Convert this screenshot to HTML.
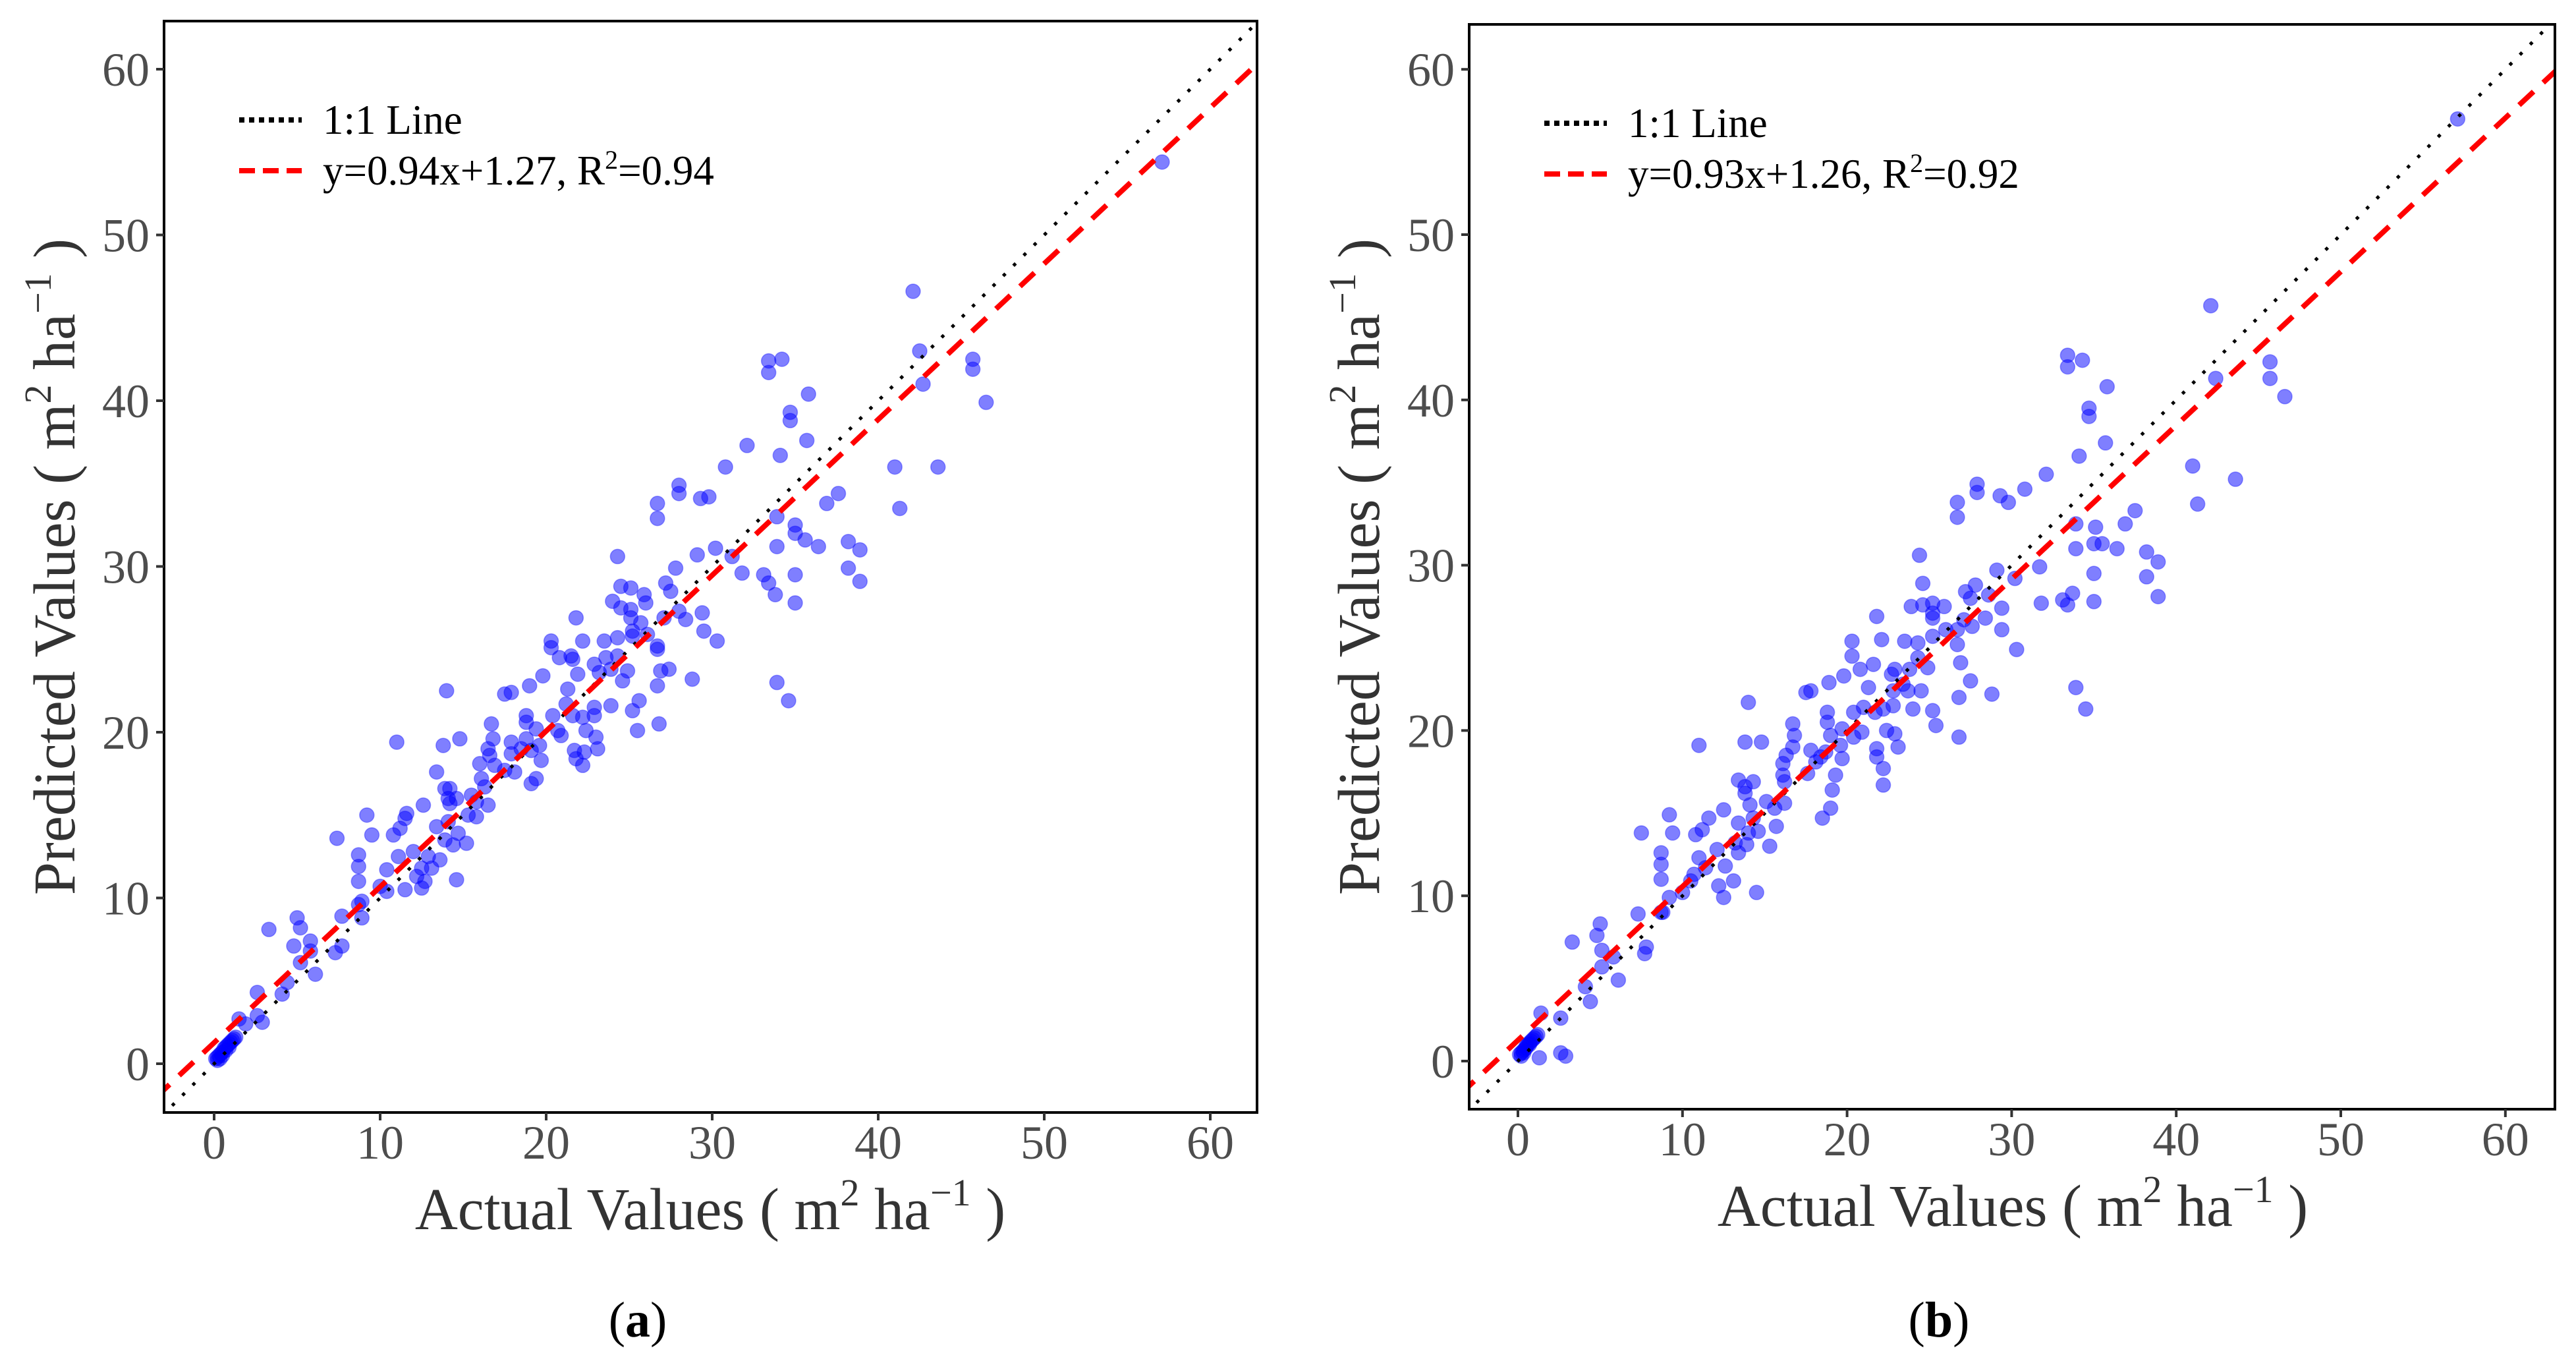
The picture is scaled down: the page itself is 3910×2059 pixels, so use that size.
<!DOCTYPE html>
<html><head><meta charset="utf-8"><style>
html,body{margin:0;padding:0;background:#fff;}
svg{display:block;font-family:"Liberation Serif",serif;}
</style></head><body>
<svg id="fig" width="3910" height="2059" viewBox="0 0 3910 2059" xmlns="http://www.w3.org/2000/svg">
<defs>
<clipPath id="clipA"><rect x="249" y="32" width="1659" height="1656"/></clipPath>
<clipPath id="clipB"><rect x="2230" y="37" width="1648" height="1646"/></clipPath>
</defs>
<g id="panelA"></g>
<g id="panelB"></g>
</svg>
<script>
const tickValues = [0,10,20,30,40,50,60];
const actualA = [42.1,42.5,42.7,45.7,45.7,46.5,41,41.3,43.6,57.1,33.4,34.2,33.4,35.8,34.7,34.7,35.7,34.1,32.1,30.8,28,28,26.7,26.7,29.3,29.8,33.9,35,35,35.6,36.4,33.9,37.6,36.9,38.2,38.9,38.2,38.9,33.1,33.4,33.8,35,35,33.9,34.6,31.8,31.2,30.2,29.1,27.8,27.2,27.5,24.3,24.5,25.1,25.9,26,24,24.5,25.1,25.1,25.7,27.1,28,28.4,29.4,29.5,30.3,25.2,25.2,26.1,26.7,26.7,21.8,20.3,20.3,22.2,23.5,24.3,20.8,21.5,21.6,22.9,23.6,24.3,23.2,23.9,24.9,26.9,27.4,19.8,21.9,19,17.5,17.9,21.3,24.6,23.9,25.6,26.7,28.8,14,21.2,20.4,21.6,22.2,22.9,22.9,25.2,18.8,18.8,19.4,20.7,20.9,22.4,23,25.5,26.8,16.7,16.8,14.8,13.8,16.5,16.6,17.9,18.8,17.9,18.5,19.1,19.6,21.7,23.1,21.8,22.3,22.2,16,16.9,17.5,18.1,19.7,11,13.4,16.1,16.3,19.1,19.4,13.9,14.2,14.1,14.6,15.5,15.8,16.5,15.8,15.3,14.2,12.6,11.6,11.5,11.2,10.8,13.4,14.1,14.7,15.2,14.4,13.9,9.2,7.4,9.5,8.7,8.7,8.7,11.1,12,12.9,13.6,12.5,13.1,12.2,12.7,12.5,10.4,11.5,10.4,10,14.6,8.9,8.7,8.9,7.7,7.7,7.3,5,5.2,3.3,4.8,5.8,5.8,5.2,6.1,4.4,4.1,2.6,1.5,1.9,2.9,2.6,0.1,0.2,0.3,0.4,0.5,0.6,0.7,0.8,0.9,1.0,1.1,1.2,1.3,0.2,0.35,0.5,0.7,0.9];
const predictedA = [46.6,43.0,41.0,42.5,41.9,39.9,36,33.5,36,54.4,42.4,42.5,41.7,40.4,39.3,38.8,37.6,36.7,37.3,36,34.9,34.4,33.8,32.9,34.1,34.2,33,32.5,32,31.6,31.2,31.2,34.4,33.8,31.5,31,29.9,29.1,29.5,29,28.3,29.5,27.8,23,21.9,29.6,30.6,31.1,30.7,29.9,29,28.5,30.6,28.8,28.7,28.3,27.8,27.9,27.5,27.4,26.9,26.6,26.9,27.3,26.8,27.2,26.1,25.5,26.1,25.8,25.9,25.2,25,26.9,25.5,25.1,25.5,25.5,25.7,24.5,24.6,24.4,24.1,24.5,24.6,23.6,23.8,23.7,23.7,23.8,23.4,23.5,22.8,22.3,22.4,22.6,23.1,21.6,21.9,22.8,23.2,22.5,21.7,21,21,20.9,21.5,21,21.3,21,20.6,20.2,20.1,19.8,20.1,19.7,20.1,20.5,20.5,19.6,19.6,19.2,19,18.6,19.4,19.6,18.7,19,18.9,19.2,18.9,19,18.4,18.8,18,18.1,18,17.7,17.6,18.3,19.4,17.6,17.2,16.7,16.9,17.2,16.6,16.6,16,16,16.2,15.8,15.6,14.9,15,15.7,15.6,15.1,14.8,14.2,13.8,14.3,14.6,13.9,13.3,13.2,13.5,15,13.6,13.8,12.6,11.9,11,12.5,12.8,12.5,12.3,11.8,11.8,11.3,11,10.6,11.7,10.5,10.4,10.7,11.1,9.8,9.6,8.8,8.9,7.1,6.7,8.8,8.2,8.1,7.1,7.4,6.8,6.1,5.4,4.9,4.2,4.3,2.7,2.4,2.5,2.9,0.3,0.4,0.5,0.6,0.7,0.9,1.0,1.1,1.2,1.3,1.4,1.5,1.6,0.2,0.3,0.5,0.8,1.0];
const actualB = [42.1,33.4,34.3,33.4,35.8,34.7,34.7,35.7,34.1,32.1,30.8,27.9,27.9,26.7,26.7,29.3,29.8,42.4,45.7,45.7,46.6,41,41.3,43.6,57.1,33.9,35.1,35,35.5,36.4,33.9,37.5,36.9,38.2,38.9,38.2,38.9,35,33.1,33.7,33.4,35,33.9,34.5,31.8,31.7,30.2,29.1,27.8,27.2,27.5,28.6,29.4,29.4,30.3,24.4,24.6,23.9,24.6,25.2,25.9,25.2,25.2,26,25.2,26.7,27.1,27.6,28.4,26.7,26.9,27.5,26.8,28.8,21.8,20.3,20.3,22.1,23.5,24.3,20.8,21.6,22.9,23.8,24.3,24.9,19.8,21.3,18.9,17.5,17.8,22.7,23.4,22.8,23.7,24.5,24,25.2,25.4,26.8,14,21,20.4,21.7,22.2,22.8,18.8,18.8,19.7,20.9,20.4,22.4,22.9,23.1,21.8,21.8,22.2,22.2,16.7,16.8,14.8,13.8,16.7,16.3,17.8,18.7,19,19.6,18.4,19.7,16.1,18.1,17.6,11,13.4,16.1,16.2,19.1,19.3,18.5,19,13.8,14.3,13.8,14.1,15.1,15.6,16.2,15.7,15.3,14.3,14.6,13.4,12.5,11.6,11.2,10.8,14,13.9,13.2,9.2,7.5,9.4,8.7,8.7,8.7,11,12.1,13.4,12.6,13.1,12.5,12.2,11.4,10.5,10,10.7,14.5,9.2,8.7,8.8,7.8,7.7,7.3,5,5.1,3.3,4.8,5.8,5.1,6.1,4.4,4.1,2.6,1.4,2.6,2.9,0.1,0.2,0.3,0.4,0.5,0.6,0.7,0.8,0.9,1.0,1.1,1.2,1.3,0.2,0.35,0.5,0.7,0.9];
const predictedB = [45.7,42.7,42.4,42,40.8,39.5,39,37.4,36.6,35.5,34.6,34.9,34.4,33.8,32.9,34.2,33.8,41.3,42.3,41.3,40.2,36,33.7,35.2,57,32.5,32.3,31.3,31.3,31,31,33.3,32.5,30.8,30.2,29.3,28.1,29.5,27.9,28.3,27.6,27.8,22.6,21.3,27.7,29.9,29.2,29.7,28.8,28.4,28,28.2,27.4,26.1,24.9,30.6,28.9,27.5,27.6,27.7,27.5,27.1,26.8,26.1,25.7,26.1,26.7,26.3,26.8,25.2,24.1,23,22,22.2,26.9,25.4,24.5,25.5,25.4,25.3,23.7,24,23.7,23.7,24.4,23.8,23.3,22.6,22.9,22.3,22.4,23.4,22.8,22.4,22.4,22.4,21.3,21.2,20.3,19.6,21.7,21.4,21.1,21.1,21.3,21.5,21.1,20.5,20.1,19.9,19.6,20,19.8,19,18.9,18.4,17.7,16.7,20.4,19.7,19.3,19.3,19,18.5,18.8,18.7,19.7,19.1,18.4,18.3,18,18.1,17.4,19.1,17,17.3,16.9,16.4,17.3,14.7,15.3,16.6,16.9,16.2,15.5,15.7,15.3,15.6,14.2,13,14.7,13.9,14.4,15.2,14.7,14,13.7,13.8,13.1,13.2,14.9,13.8,13.8,12.6,11.9,11,12.3,12.8,12.6,11.8,10.9,9.9,10.6,11.7,10.9,10.2,11.3,10.2,9.9,9,9,6.9,6.5,8.9,8.3,6.7,7.2,7.6,6.3,5.7,4.9,3.6,4.5,2.6,2.9,0.5,0.3,0.4,0.5,0.6,0.7,0.9,1.0,1.1,1.2,1.3,1.4,1.5,1.6,0.2,0.3,0.5,0.8,1.0];
const slopes = [0.94, 0.93];
const intercepts = [1.27, 1.26];
const legendLabels = ["y=0.94x+1.27, R", "y=0.93x+1.26, R"];
const r2Values = ["0.94", "0.92"];
const panelLetters = ["a", "b"];

const NS = "http://www.w3.org/2000/svg";
function mk(tag, attrs, parent) {
  const e = document.createElementNS(NS, tag);
  for (const k in attrs) e.setAttribute(k, attrs[k]);
  parent.appendChild(e);
  return e;
}
const panels = [
  {g: document.getElementById('panelA'), clip: 'url(#clipA)', L: 249, T: 32, R: 1908, B: 1688, x0: 325, ux: 25.2, y0: 1614, uy: 25.15, xs: actualA, ys: predictedA, legY: 182, legX: 363, ytitleX: 113, ytitleY: 860, xtitleX: 1078, xtitleY: 1865, letterX: 968},
  {g: document.getElementById('panelB'), clip: 'url(#clipB)', L: 2230, T: 37, R: 3878, B: 1683, x0: 2304, ux: 24.98, y0: 1610, uy: 25.08, xs: actualB, ys: predictedB, legY: 187, legX: 2344, ytitleX: 2093, ytitleY: 860, xtitleX: 3055, xtitleY: 1860, letterX: 2943}
];
panels.forEach((p, i) => {
  const X = v => p.x0 + v * p.ux;
  const Y = v => p.y0 - v * p.uy;
  const g = p.g;
  const plot = mk('g', {'clip-path': p.clip}, g);
  
  
  const pts = mk('g', {}, plot);
  
  
  for (let k = 0; k < p.xs.length; k++) {
    const c = mk('circle', {cx: X(p.xs[k]), cy: Y(p.ys[k]), r: 11, fill: '#0000ff', 'fill-opacity': 0.5, stroke: '#0000ff', 'stroke-opacity': 0.35, 'stroke-width': 1.5}, pts);
    
    
  }
  const l1 = mk('line', {x1: X(-5), y1: Y(-5), x2: X(70), y2: Y(70), stroke: '#000', 'stroke-width': 5, 'stroke-dasharray': '5 17'}, plot);
  
  
  const fx = v => slopes[i] * v + intercepts[i];
  const l2 = mk('line', {x1: X(-5), y1: Y(fx(-5)), x2: X(70), y2: Y(fx(70)), stroke: '#ff0000', 'stroke-width': 8, 'stroke-dasharray': '30 20'}, plot);
  
  
  const fr = mk('rect', {x: p.L, y: p.T, width: p.R - p.L, height: p.B - p.T, fill: 'none', stroke: '#000', 'stroke-width': 4}, g);
  
  
  tickValues.forEach(t => {
    const tx = mk('line', {x1: X(t), y1: p.B, x2: X(t), y2: p.B + 12, stroke: '#333', 'stroke-width': 4}, g);
    
    
    const lx = mk('text', {x: X(t), y: p.B + 70, 'text-anchor': 'middle', 'font-size': 72, fill: '#4d4d4d'}, g);
    lx.textContent = t;
    
    
    const ty = mk('line', {x1: p.L - 12, y1: Y(t), x2: p.L, y2: Y(t), stroke: '#333', 'stroke-width': 4}, g);
    
    
    const ly = mk('text', {x: p.L - 22, y: Y(t) + 25, 'text-anchor': 'end', 'font-size': 72, fill: '#4d4d4d'}, g);
    ly.textContent = t;
    
    
  });
  const leg = mk('g', {}, g);
  
  
  const s1 = mk('line', {x1: p.legX, y1: p.legY, x2: p.legX + 95, y2: p.legY, stroke: '#000', 'stroke-width': 8, 'stroke-dasharray': '8 7'}, leg);
  
  
  const t1 = mk('text', {x: p.legX + 127, y: p.legY + 21, 'font-size': 63, fill: '#000'}, leg);
  t1.textContent = '1:1 Line';
  
  
  const s2 = mk('line', {x1: p.legX, y1: p.legY + 77, x2: p.legX + 95, y2: p.legY + 77, stroke: '#ff0000', 'stroke-width': 8, 'stroke-dasharray': '24 12'}, leg);
  
  
  const t2 = mk('text', {x: p.legX + 127, y: p.legY + 98, 'font-size': 63, fill: '#000'}, leg);
  t2.innerHTML = legendLabels[i] + '<tspan font-size="40" dy="-24">2</tspan><tspan dy="24">=' + r2Values[i] + '</tspan>';
  
  
  const xt = mk('text', {x: p.xtitleX, y: p.xtitleY, 'text-anchor': 'middle', 'font-size': 90, fill: '#333'}, g);
  xt.innerHTML = 'Actual Values ( m<tspan font-size="58" dy="-36">2</tspan><tspan dy="36"> ha</tspan><tspan font-size="58" dy="-36">−1</tspan><tspan dy="36"> )</tspan>';
  
  
  const yt = mk('text', {x: 0, y: 0, 'text-anchor': 'middle', 'font-size': 90, fill: '#333', transform: 'translate(' + p.ytitleX + ',' + p.ytitleY + ') rotate(-90)'}, g);
  yt.innerHTML = 'Predicted Values ( m<tspan font-size="58" dy="-36">2</tspan><tspan dy="36"> ha</tspan><tspan font-size="58" dy="-36">−1</tspan><tspan dy="36"> )</tspan>';
  
  
  const pl = mk('text', {x: p.letterX, y: 2028, 'text-anchor': 'middle', 'font-size': 76, fill: '#000'}, g);
  pl.innerHTML = '(<tspan font-weight="bold">' + panelLetters[i] + '</tspan>)';
  
  
});
</script>
</body></html>
